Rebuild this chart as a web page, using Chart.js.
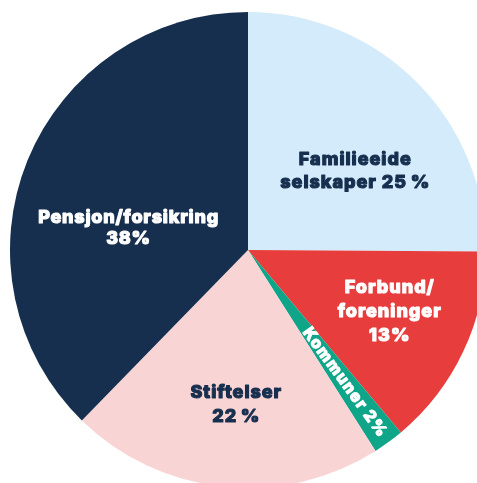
<!DOCTYPE html>
<html>
<head>
<meta charset="utf-8">
<script src="https://cdn.jsdelivr.net/npm/chart.js@4"></script>
<style>
  html, body { margin: 0; padding: 0; background: #ffffff; overflow: hidden; width: 477px; height: 483px; }
  #wrap { position: absolute; left: 10px; top: 12px; width: 476px; height: 476px; }
</style>
</head>
<body>
<div id="wrap"><canvas id="c"></canvas></div>
<script>
// Data
const categories = ["Familieeide selskaper", "Forbund/foreninger", "Kommuner", "Stiftelser", "Pensjon/forsikring"];
const shares = [25.1, 13.8, 2.1, 21.3, 37.7];
const labelLines = [
  ["Familieeide", "selskaper 25\u2009%"],
  ["Forbund/", "foreninger", "13%"],
  ["Kommuner 2%"],
  ["Stiftelser", "22\u2009%"],
  ["Pensjon/forsikring", "38%"]
];

// Styles
const colors = ["#d4ebfb", "#e83d3d", "#0ea588", "#f9d4d5", "#172f4f"];
const textColors = ["#172f4f", "#ffffff", "#ffffff", "#172f4f", "#ffffff"];
// per-label placement: angle offset from slice middle (deg), radius fraction, rotate along radius, font size, line height
const labelStyle = [
  { dAng: 8.4, rf: 0.56, rotate: false, size: 18, lh: 23, ls: 1.0 },
  { dAng: -1.6, rf: 0.65, rotate: false, size: 18, lh: 24, ls: 1.0 },
  { dAng: 0, rf: 0.69, rotate: true, size: 16, lh: 18, ls: 1.3 },
  { dAng: -1.6, rf: 0.65, rotate: false, size: 18, lh: 24, ls: 1.0 },
  { dAng: -11.8, rf: 0.51, rotate: false, size: 18, lh: 21, ls: 0.8 }
];

const labelPlugin = {
  id: 'sliceLabels',
  afterDatasetsDraw(chart) {
    const ctx = chart.ctx;
    const meta = chart.getDatasetMeta(0);
    meta.data.forEach((arc, i) => {
      const p = arc.getProps(['x', 'y', 'startAngle', 'endAngle', 'outerRadius'], true);
      const st = labelStyle[i];
      const mid = (p.startAngle + p.endAngle) / 2 + st.dAng * Math.PI / 180;
      const r = p.outerRadius * st.rf;
      const x = p.x + Math.cos(mid) * r;
      const y = p.y + Math.sin(mid) * r;
      ctx.save();
      ctx.translate(x, y);
      if (st.rotate) ctx.rotate(mid);
      ctx.fillStyle = textColors[i];
      ctx.strokeStyle = textColors[i];
      ctx.lineWidth = 1.1;
      ctx.lineJoin = 'round';
      ctx.font = '800 ' + st.size + 'px Inter, "Open Sans", sans-serif';
      try { ctx.letterSpacing = st.ls + 'px'; } catch (e) {}
      ctx.textAlign = 'center';
      ctx.textBaseline = 'middle';
      const lines = labelLines[i];
      const n = lines.length;
      lines.forEach((t, k) => {
        const yy = (k - (n - 1) / 2) * st.lh;
        ctx.strokeText(t, 0, yy);
        ctx.fillText(t, 0, yy);
      });
      ctx.restore();
    });
  }
};

new Chart(document.getElementById('c'), {
  type: 'pie',
  data: {
    labels: categories,
    datasets: [{
      data: shares,
      backgroundColor: colors,
      borderWidth: 0,
      hoverOffset: 0
    }]
  },
  options: {
    responsive: true,
    maintainAspectRatio: false,
    animation: false,
    layout: { padding: 0 },
    plugins: {
      legend: { display: false },
      tooltip: { enabled: false }
    }
  },
  plugins: [labelPlugin]
});
</script>
</body>
</html>
